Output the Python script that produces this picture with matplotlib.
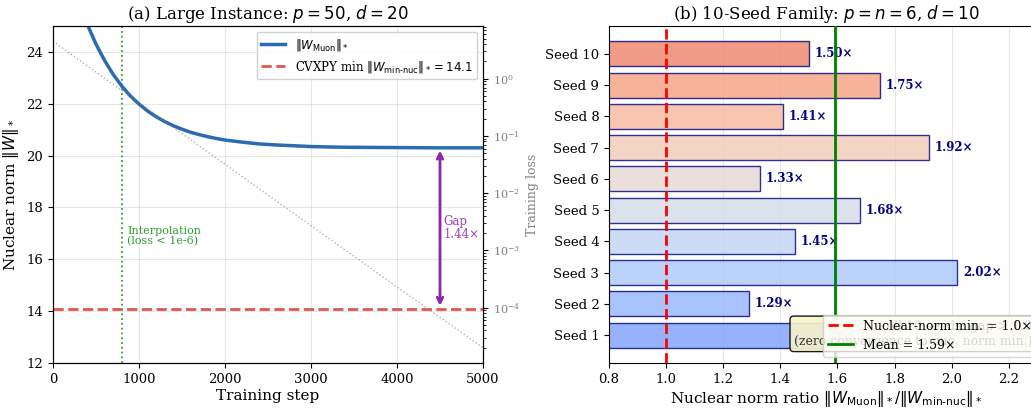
import matplotlib
matplotlib.use("Agg")
import matplotlib.pyplot as plt
import numpy as np

plt.rcParams['font.family'] = ['DejaVu Serif']

# ---- Panel (a): nuclear norm during Muon training ----
steps = [0, 100, 200, 300, 400, 500, 600, 700, 800, 900, 1000, 1100, 1200,
         1300, 1400, 1500, 1600, 1700, 1800, 1900, 2000, 2200, 2400, 2600,
         2800, 3000, 3250, 3500, 4000, 4500, 5000]
muon_norm = [29.8, 28.3, 27.0, 25.95, 25.05, 24.3, 23.67, 23.13, 22.68, 22.3,
             21.99, 21.72, 21.50, 21.31, 21.15, 21.02, 20.90, 20.81, 20.73,
             20.66, 20.60, 20.52, 20.45, 20.41, 20.38, 20.35, 20.33, 20.32,
             20.31, 20.30, 20.30]
loss_steps = [0, 1000, 2000, 3000, 4000, 5000]
train_loss = [4.5, 0.38, 0.032, 2.7e-3, 2.3e-4, 2.0e-5]
min_nuc = 14.1
interp_step = 800
gap_step = 4500
gap_ratio = 1.44

# ---- Panel (b): ratio per seed ----
seed_labels = [f"Seed {i}" for i in range(1, 11)]
ratios = [1.55, 1.29, 2.02, 1.45, 1.68, 1.33, 1.92, 1.41, 1.75, 1.50]
mean_ratio = 1.59

fig = plt.figure(figsize=(10.31, 4.11), dpi=100)
ax1 = fig.add_axes([53/1031, 48/411, 430/1031, 337/411])
ax2 = fig.add_axes([609/1031, 48/411, 434/1031, 337/411])

# left panel
ax1.plot(steps, muon_norm, color='#2b6cb0', lw=2.5, label=r'$\|W_{\mathrm{Muon}}\|_*$', zorder=3)
ax1.axhline(min_nuc, color='#e0584a', lw=2, ls='--',
            label=r'CVXPY min $\|W_{\mathrm{min\text{-}nuc}}\|_* = 14.1$', zorder=3)
ax1.axvline(interp_step, color='#2ca02c', lw=1.3, ls=':', zorder=2)
ax1.text(interp_step + 60, 16.9, 'Interpolation\n(loss < 1e-6)', color='#2ca02c',
         fontsize=8, va='center', ha='left', linespacing=1.0)
ax1.annotate('', xy=(gap_step, min_nuc), xytext=(gap_step, min_nuc * gap_ratio),
             arrowprops=dict(arrowstyle='<->', color='#8e24aa', lw=2))
ax1.text(gap_step + 40, 17.2, 'Gap\n1.44×', color='#a040c0', fontsize=8.5,
         va='center', ha='left', linespacing=1.0)
ax1.set_xlim(0, 5000)
ax1.set_ylim(12, 25)
ax1.set_xlabel('Training step', fontsize=11, labelpad=2)
ax1.set_ylabel(r'Nuclear norm $\|W\|_*$', fontsize=11)
ax1.set_title(r'(a) Large Instance: $p = 50$, $d = 20$', fontsize=12, pad=5)
ax1.grid(True, alpha=0.3)
ax1.tick_params(labelsize=9.5)
ax1.legend(loc='upper right', fontsize=8.5, framealpha=0.9)

tw = ax1.twinx()
tw.plot(loss_steps, train_loss, color='gray', lw=1, ls=':', alpha=0.6)
tw.set_yscale('log')
tw.set_ylabel('Training loss', color='gray', fontsize=9)
tw.tick_params(axis='y', labelcolor='gray', labelsize=8)
tw.set_xlim(0, 5000)

# right panel
ypos = np.arange(len(ratios))
colors = plt.cm.coolwarm(np.linspace(0.2, 0.8, len(ratios)))
ax2.barh(ypos, ratios, height=0.8, color=colors, alpha=0.8,
         edgecolor='navy', linewidth=1, zorder=2)
for y, r in zip(ypos, ratios):
    ax2.text(r + 0.02, y, f'{r:.2f}×', va='center', ha='left', fontsize=8.5,
             fontweight='bold', color='navy', zorder=3)
ax2.axvline(1.0, color='red', lw=2, ls='--', label='Nuclear-norm min. = 1.0×', zorder=4)
ax2.axvline(mean_ratio, color='green', lw=2, label=f'Mean = {mean_ratio:.2f}×', zorder=4)
ax2.set_yticks(ypos)
ax2.set_yticklabels(seed_labels)
ax2.set_xlim(0.8, 2.32)
ax2.set_xlabel(r'Nuclear norm ratio $\|W_{\mathrm{Muon}}\|_*/\|W_{\mathrm{min\text{-}nuc}}\|_*$',
               fontsize=11, labelpad=2)
ax2.set_title(r'(b) 10-Seed Family: $p = n = 6$, $d = 10$', fontsize=12, pad=5)
ax2.grid(True, axis='x', alpha=0.3, zorder=0)
ax2.set_axisbelow(True)
ax2.tick_params(labelsize=9.5)
ax2.text(0.975, 0.045, 'All 10 seeds: gap > 1.0\n(zero convergence to nuc. norm min.)',
         transform=ax2.transAxes, ha='right', va='bottom', fontsize=9, color='#333333',
         bbox=dict(boxstyle='round', facecolor='#f6f2c8', edgecolor='black', alpha=0.9),
         zorder=5)
leg = ax2.legend(loc='lower right', fontsize=9, framealpha=0.8)
leg.set_zorder(6)

fig.savefig('out.png', dpi=100)
